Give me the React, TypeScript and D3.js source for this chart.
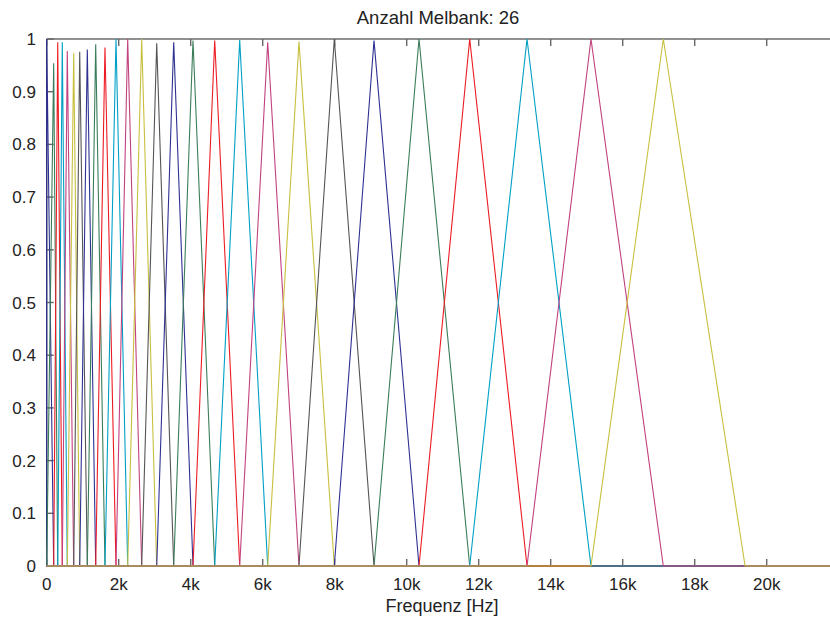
import React, { useRef, useEffect } from 'react';
import * as d3 from 'd3';

// filter edges (Hz): edge[i] = left foot, edge[i+1] = peak, edge[i+2] = right foot
const bandEdgesHz = [
  0, 0, 194, 306, 433, 572, 750, 917, 1128, 1361, 1619, 1925, 2250, 2639, 3056,
  3528, 4064, 4667, 5361, 6139, 7008, 7989, 9092, 10342, 11750, 13342, 15119, 17128, 19400,
];
const peakGain = [
  1, 0.954, 0.994, 0.994, 0.977, 0.973, 0.976, 0.98, 0.99, 0.984, 1, 1, 1, 0.992,
  0.994, 0.997, 0.997, 0.998, 0.994, 0.995, 1, 0.997, 1, 1, 1, 1, 1,
];
const lineColors = ['#2e3192', '#3a7d5a', '#ed1c24', '#00a0c6', '#c2417f', '#c9bf3e', '#555555'];
const xTicks = [0, 2000, 4000, 6000, 8000, 10000, 12000, 14000, 16000, 18000, 20000];
const xTickLabels = ['0', '2k', '4k', '6k', '8k', '10k', '12k', '14k', '16k', '18k', '20k'];
const yTicks = [0, 0.1, 0.2, 0.3, 0.4, 0.5, 0.6, 0.7, 0.8, 0.9, 1];
const yTickLabels = ['0', '0.1', '0.2', '0.3', '0.4', '0.5', '0.6', '0.7', '0.8', '0.9', '1'];
const titleText = 'Anzahl Melbank: 26';
const xLabelText = 'Frequenz [Hz]';
const maxHz = 22050;

const width = 830;
const height = 617;

const App = () => {
  const svgRef = useRef<SVGSVGElement>(null);

  useEffect(() => {
    const svg = d3.select(svgRef.current);
    svg.selectAll('*').remove();

    const left = 46.7, right = 840.5, top = 39, bottom = 566;
    const font = "Arial, 'Liberation Sans', sans-serif";

    const x = d3.scaleLinear().domain([0, maxHz]).range([left, right]);
    const y = d3.scaleLinear().domain([0, 1]).range([bottom, top]);

    svg.append('rect').attr('width', width).attr('height', height).attr('fill', '#fff');

    // box
    const box = svg.append('g').attr('stroke', '#222').attr('stroke-width', 1.2);
    box.append('line').attr('x1', left).attr('x2', left).attr('y1', top).attr('y2', bottom);
    box.append('line').attr('x1', left).attr('x2', right).attr('y1', top).attr('y2', top);
    box.append('line').attr('x1', left).attr('x2', right).attr('y1', bottom).attr('y2', bottom);

    // ticks
    const ticks = svg.append('g').attr('stroke', '#666').attr('stroke-width', 1.4);
    xTicks.forEach(t => {
      ticks.append('line').attr('x1', x(t)).attr('x2', x(t)).attr('y1', bottom).attr('y2', bottom - 7);
      ticks.append('line').attr('x1', x(t)).attr('x2', x(t)).attr('y1', top).attr('y2', top + 7);
    });
    yTicks.forEach(t => {
      ticks.append('line').attr('x1', left).attr('x2', left + 7).attr('y1', y(t)).attr('y2', y(t));
    });

    // filters
    const line = d3.line<[number, number]>().x(d => x(d[0])).y(d => y(d[1]));
    peakGain.forEach((g, i) => {
      const pts: [number, number][] = [
        [0, 0],
        [bandEdgesHz[i], 0],
        [bandEdgesHz[i + 1], g],
        [bandEdgesHz[i + 2], 0],
        [maxHz, 0],
      ];
      svg.append('path')
        .attr('d', line(pts))
        .attr('fill', 'none')
        .attr('stroke', lineColors[i % lineColors.length])
        .attr('stroke-width', 1.1);
    });

    // labels
    svg.append('g').selectAll('text').data(xTicks).enter().append('text')
      .attr('x', d => x(d))
      .attr('y', 590)
      .attr('text-anchor', 'middle')
      .attr('font-family', font).attr('font-size', 17).attr('fill', '#222')
      .text((d, i) => xTickLabels[i]);

    svg.append('g').selectAll('text').data(yTicks).enter().append('text')
      .attr('x', 36)
      .attr('y', d => y(d) + 6)
      .attr('text-anchor', 'end')
      .attr('font-family', font).attr('font-size', 17).attr('fill', '#222')
      .text((d, i) => yTickLabels[i]);

    svg.append('text')
      .attr('x', 438).attr('y', 24)
      .attr('text-anchor', 'middle')
      .attr('font-family', font).attr('font-size', 18.5).attr('fill', '#222')
      .text(titleText);

    svg.append('text')
      .attr('x', 442).attr('y', 612)
      .attr('text-anchor', 'middle')
      .attr('font-family', font).attr('font-size', 18).attr('fill', '#222')
      .text(xLabelText);
  }, []);

  return (
    <svg ref={svgRef} width={width} height={height}
      style={{ position: 'absolute', left: 0, top: 0, display: 'block' }} />
  );
};

export default App;
